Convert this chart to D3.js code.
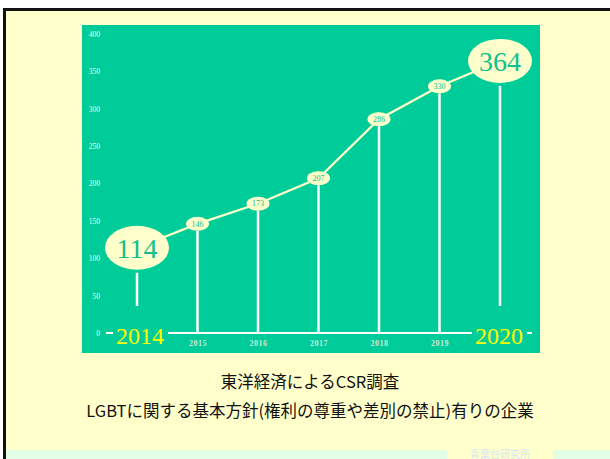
<!DOCTYPE html>
<html>
<head>
<meta charset="utf-8">
<script src="https://cdn.jsdelivr.net/npm/d3@7/dist/d3.min.js"></script>
<style>
  html, body { margin: 0; padding: 0; background: #ffffff; }
  svg { display: block; }
</style>
</head>
<body>
<svg id="chart" width="610" height="459"></svg>
<script>
const years = ["2014", "2015", "2016", "2017", "2018", "2019", "2020"];
const values = [114, 146, 173, 207, 286, 330, 364];
const yTicks = [0, 50, 100, 150, 200, 250, 300, 350, 400];
const highlightYears = ["2014", "2020"];
const titleLines = ["東洋経済によるCSR調査", "LGBTに関する基本方針(権利の尊重や差別の禁止)有りの企業"];
const footerText = "青葉台研究所";

const data = years.map((y, i) => ({ year: y, value: values[i], big: highlightYears.includes(y) }));

const svg = d3.select("#chart");
const serif = "'Liberation Serif', 'DejaVu Serif', serif";
const green = "#00CC99";
const cream = "#FFFFCC";

// outer frame
svg.append("rect").attr("x", 4.5).attr("y", 9.5).attr("width", 620).attr("height", 460)
  .attr("fill", cream).attr("stroke", "#111").attr("stroke-width", 3);

// footer strip
svg.append("rect").attr("x", 6).attr("y", 450).attr("width", 441).attr("height", 10).attr("fill", "#E2FFE6");
svg.append("rect").attr("x", 553).attr("y", 450).attr("width", 60).attr("height", 10).attr("fill", "#E2FFE6");
svg.append("text").attr("x", 500).attr("y", 457.5).attr("text-anchor", "middle")
  .attr("font-family", "'Noto Sans CJK JP', sans-serif").attr("font-size", 10)
  .attr("fill", "#D6E6F4").text(footerText);

// plot background
svg.append("rect").attr("x", 82).attr("y", 25).attr("width", 458).attr("height", 328).attr("fill", green);

const x = d3.scalePoint().domain(years).range([137, 500]);
const y = d3.scaleLinear().domain([0, 400]).range([333, 34]);

// y axis labels
const yAxis = svg.append("g").attr("transform", "translate(100,0)")
  .call(d3.axisLeft(y).tickValues(yTicks).tickSize(0).tickPadding(0));
yAxis.select(".domain").remove();
yAxis.selectAll("text").attr("font-family", serif).attr("font-size", 7.5).attr("fill", "#E8FFF0").attr("dy", "0.32em");

// baseline
svg.append("line").attr("x1", 106).attr("x2", 532).attr("y1", y(0)).attr("y2", y(0))
  .attr("stroke", "#ffffff").attr("stroke-width", 2);

// x axis small labels
const xAxis = svg.append("g").attr("transform", `translate(0,${y(0)})`)
  .call(d3.axisBottom(x).tickSize(0).tickPadding(7));
xAxis.select(".domain").remove();
xAxis.selectAll(".tick").filter(d => highlightYears.includes(d)).remove();
xAxis.selectAll("text").attr("font-family", serif).attr("font-size", 8).attr("font-weight", "bold")
  .attr("fill", "#CDEBDA").attr("letter-spacing", 0.5);

// big year labels with background cut
data.filter(d => d.big).forEach(d => {
  const off = d.year === "2014" ? 3 : -1;
  svg.append("rect").attr("x", x(d.year) + off - 27).attr("y", y(0) - 3).attr("width", 55).attr("height", 6).attr("fill", green);
  svg.append("text").attr("x", x(d.year) + off).attr("y", 344)
    .attr("text-anchor", "middle").attr("font-family", serif).attr("font-size", 24)
    .attr("fill", "#FFFF00").text(d.year);
});

// drop lines
const ry = d => d.big ? 22 : 7;
const rx = d => d.big ? 32 : 11.5;
svg.selectAll(".drop").data(data).join("line").attr("class", "drop")
  .attr("x1", d => x(d.year)).attr("x2", d => x(d.year))
  .attr("y1", d => y(d.value) + ry(d) + (d.big ? 3 : 0))
  .attr("y2", d => d.big ? 306 : y(0))
  .attr("stroke", "#ffffff").attr("stroke-width", 2.5);

// connecting line
const line = d3.line().x(d => x(d.year)).y(d => y(d.value));
svg.append("path").datum(data).attr("d", line).attr("fill", "none")
  .attr("stroke", cream).attr("stroke-width", 2.2);

// ellipses
svg.selectAll(".bubble").data(data).join("ellipse").attr("class", "bubble")
  .attr("cx", d => x(d.year)).attr("cy", d => y(d.value))
  .attr("rx", rx).attr("ry", ry).attr("fill", cream);

svg.selectAll(".val").data(data).join("text").attr("class", "val")
  .attr("x", d => x(d.year)).attr("y", d => y(d.value))
  .attr("dy", d => d.big ? "0.36em" : "0.35em")
  .attr("text-anchor", "middle").attr("font-family", serif)
  .attr("font-size", d => d.big ? 28 : 8).attr("fill", "#10C08F")
  .text(d => d.value);

// titles
svg.selectAll(".title").data(titleLines).join("text").attr("class", "title")
  .attr("x", 310).attr("y", (d, i) => 388 + i * 29)
  .attr("text-anchor", "middle").attr("font-family", "'Noto Sans CJK JP', sans-serif")
  .attr("font-size", 16.5).attr("fill", "#111").text(d => d);
</script>
</body>
</html>
